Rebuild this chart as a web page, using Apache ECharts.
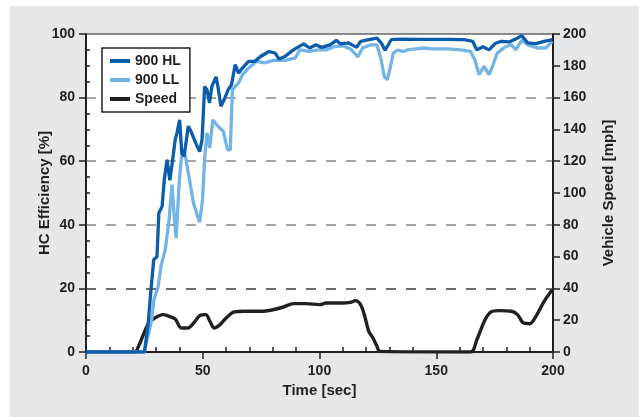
<!DOCTYPE html>
<html>
<head>
<meta charset="utf-8">
<script src="https://cdn.jsdelivr.net/npm/echarts@6/dist/echarts.min.js"></script>
<style>
html,body{margin:0;padding:0;background:#fff;}
#c{width:639px;height:417px;}
</style>
</head>
<body>
<div id="c"></div>
<script>
// ---- data ----
var hlTime = [0, 25, 26.5, 27.7, 29, 30.4, 31.2, 32.6, 33.5, 34.7, 35.9, 37.3, 38.2, 39, 40.1, 41, 42, 43.8, 45.2, 47, 48.7, 49.7, 50.8, 51.8, 52.9, 53.9, 55.7, 56.5, 57.8, 59.2, 60.9, 62.3, 63.9, 65.3, 67, 69.6, 72.3, 74.9, 78.4, 81, 82.7, 85.3, 88.8, 93.2, 95.8, 98.4, 101, 104.5, 107.2, 108.9, 112.4, 115.9, 117.6, 121.1, 124.6, 126.4, 128.1, 130.7, 134.2, 145, 155, 162, 165.6, 167.4, 170, 172.6, 175.2, 177.8, 181.3, 184, 186.6, 189.2, 192.7, 196.2, 199.7];
var hlValue = [0, 0, 8, 18.5, 29, 30, 43.7, 45.8, 54, 60.5, 54, 61.5, 66.8, 69, 73, 62.6, 61.5, 71, 69, 65.7, 63, 66.8, 83.5, 82.5, 78.3, 83.5, 86.5, 83.5, 77.3, 79.4, 82.5, 84, 90.4, 87.7, 89.3, 91.4, 91.4, 93, 94.5, 94, 92.1, 93, 95, 96.9, 95.6, 96.6, 95.8, 96.6, 98, 96.9, 97.2, 95.8, 97.7, 98.2, 98.7, 97.2, 94.9, 98.2, 98.4, 98.3, 98.3, 98.2, 97.7, 95, 96, 95, 97, 97.7, 97.5, 98.4, 99.5, 97.2, 97, 97.7, 98.2];

var llTime = [0, 25, 26.9, 28.1, 29.1, 30.9, 32.1, 33.9, 35.6, 36.8, 37.7, 38.6, 40, 41.2, 42.6, 44.3, 46, 47.8, 48.7, 49.9, 50.8, 51.8, 53, 54.3, 56.5, 58.8, 60.6, 61.8, 62.7, 63.9, 65.3, 67, 69.6, 73.1, 76.6, 80.1, 85.3, 89.7, 91.5, 95.8, 99.3, 102.8, 106.3, 109.8, 113.3, 116.4, 118.5, 122, 124.6, 126.4, 127.7, 129, 130.4, 131.6, 133.3, 136, 137.7, 141.2, 144.7, 148.2, 155.1, 160.4, 164.7, 166.5, 168.3, 170.5, 172.6, 174.4, 176.1, 179.6, 182.2, 184, 186.6, 189.2, 193.4, 196.9, 199.7];
var llValue = [0, 0, 6, 10, 16.5, 20.6, 27, 32, 41.6, 52.6, 43.7, 35.8, 54.2, 63.6, 61.5, 54.2, 46.9, 42.7, 40.8, 47.9, 60.5, 68.9, 64.2, 73, 71, 69.4, 63.6, 63.6, 82.5, 83.5, 84.6, 87.2, 89.3, 91.4, 90.9, 91.7, 91.7, 92.5, 95, 94.5, 95, 95, 96, 96.3, 95.3, 92.8, 95.6, 96.6, 96.6, 91.9, 86.7, 85.6, 89.8, 94, 94.9, 94.5, 95, 95.3, 95.6, 95.3, 95.3, 95, 94.5, 91.9, 87.2, 89.8, 87.2, 90.4, 94, 96, 96.6, 95, 98, 96.6, 95.6, 95.6, 97.7];

var spTime = [0, 20.8, 22.5, 24.3, 26.9, 29.5, 33, 35.6, 38.2, 40.8, 43.5, 46.1, 48.7, 51.3, 53.1, 54.8, 57.4, 60, 63.5, 67.9, 74.9, 80.1, 84.5, 88.8, 94.1, 100.2, 102.8, 109.8, 113.3, 115.4, 117.6, 119.4, 121.1, 122.9, 124.6, 125.8, 164.7, 167.4, 170.9, 173.5, 177, 182.2, 184.8, 187.4, 190, 192.7, 196.2, 199.7];
var spValue = [0, 0, 3.6, 9.9, 18.2, 21.4, 23.5, 22.4, 20.8, 15.1, 15.1, 18.2, 22.9, 23.5, 19.3, 15.1, 17.2, 21.4, 25.2, 25.6, 25.6, 26.6, 28.3, 30.4, 30.4, 29.8, 30.8, 30.8, 31.2, 32.3, 29.8, 22.4, 13, 8.8, 3.6, 0.4, 0, 7.8, 20.3, 25.2, 26, 25.6, 23.5, 18.2, 17.8, 22.4, 31.9, 39.2];

var seriesNames = ['900 HL', '900 LL', 'Speed'];
var xTitle = 'Time [sec]';
var yLeftTitle = 'HC Efficiency [%]';
var yRightTitle = 'Vehicle Speed [mph]';

function pairs(t, v) { return t.map(function (x, i) { return [x, v[i]]; }); }

var FONT = '"Liberation Sans", Arial, Helvetica, sans-serif';
var TXT = '#231f20';
var labelStyle = { color: TXT, fontFamily: FONT, fontWeight: 'bold', fontSize: 14 };
var nameStyle = { color: TXT, fontFamily: FONT, fontWeight: 'bold', fontSize: 15 };

var chart = echarts.init(document.getElementById('c'), null, { renderer: 'canvas' });
chart.setOption({
  animation: false,
  backgroundColor: '#ffffff',
  graphic: [{
    type: 'rect', z: -10, silent: true,
    shape: { x: 10, y: 6, width: 629, height: 411 },
    style: { fill: '#e6e7e8' }
  }],
  grid: {
    left: 86, right: 86, top: 34, bottom: 65,
    show: true, backgroundColor: '#ffffff', borderColor: TXT, borderWidth: 1
  },
  legend: {
    data: seriesNames,
    orient: 'vertical',
    left: 102, top: 48,
    padding: [5, 9, 5, 8],
    itemGap: 3,
    itemWidth: 20, itemHeight: 4,
    icon: 'rect',
    backgroundColor: '#ffffff',
    borderColor: TXT, borderWidth: 1.5,
    textStyle: { color: TXT, fontFamily: FONT, fontWeight: 'bold', fontSize: 14, lineHeight: 16, padding: [0, 0, 0, 0] }
  },
  xAxis: {
    type: 'value', min: 0, max: 200, interval: 50,
    name: xTitle, nameLocation: 'middle', nameGap: 31, nameMoveOverlap: false,
    nameTextStyle: nameStyle,
    axisLine: { show: true, lineStyle: { color: TXT, width: 2 } },
    axisTick: { show: true, inside: false, length: 7, lineStyle: { color: TXT, width: 1.5 } },
    minorTick: { show: true, splitNumber: 5, length: -5, lineStyle: { color: TXT, width: 1.5 } },
    axisLabel: Object.assign({ margin: 12 }, labelStyle),
    splitLine: { show: false }
  },
  yAxis: [{
    type: 'value', min: 0, max: 100, interval: 20, position: 'left',
    name: yLeftTitle, nameLocation: 'middle', nameGap: 34, nameMoveOverlap: false,
    nameTextStyle: nameStyle,
    axisLine: { show: true, lineStyle: { color: TXT, width: 2 } },
    axisTick: { show: true, inside: false, length: 7, lineStyle: { color: TXT, width: 1.5 } },
    minorTick: { show: true, splitNumber: 4, length: -4, lineStyle: { color: TXT, width: 1.5 } },
    axisLabel: Object.assign({ margin: 11 }, labelStyle),
    splitLine: {
      show: true,
      lineStyle: { color: ['rgba(0,0,0,0)', '#3a3a3a', '#888888', '#888888', '#888888', 'rgba(0,0,0,0)'], width: 1.5, type: [10, 10] }
    }
  }, {
    type: 'value', min: 0, max: 200, interval: 20, position: 'right',
    name: yRightTitle, nameLocation: 'middle', nameGap: 48, nameMoveOverlap: false,
    nameTextStyle: nameStyle,
    axisLine: { show: true, lineStyle: { color: TXT, width: 2 } },
    axisTick: { show: true, inside: false, length: 7, lineStyle: { color: TXT, width: 1.5 } },
    axisLabel: Object.assign({ margin: 10 }, labelStyle),
    splitLine: { show: false }
  }],
  series: [{
    name: 'Speed', type: 'line', yAxisIndex: 1, data: pairs(spTime, spValue),
    showSymbol: false, smooth: 0.3, z: 3,
    lineStyle: { color: TXT, width: 3.4 }, itemStyle: { color: TXT }
  }, {
    name: '900 LL', type: 'line', yAxisIndex: 0, data: pairs(llTime, llValue),
    showSymbol: false, smooth: false, z: 4,
    lineStyle: { color: '#73b4e7', width: 3.3 }, itemStyle: { color: '#73b4e7' }
  }, {
    name: '900 HL', type: 'line', yAxisIndex: 0, data: pairs(hlTime, hlValue),
    showSymbol: false, smooth: false, z: 5,
    lineStyle: { color: '#0b5dac', width: 3.3 }, itemStyle: { color: '#0b5dac' }
  }]
});
</script>
</body>
</html>
